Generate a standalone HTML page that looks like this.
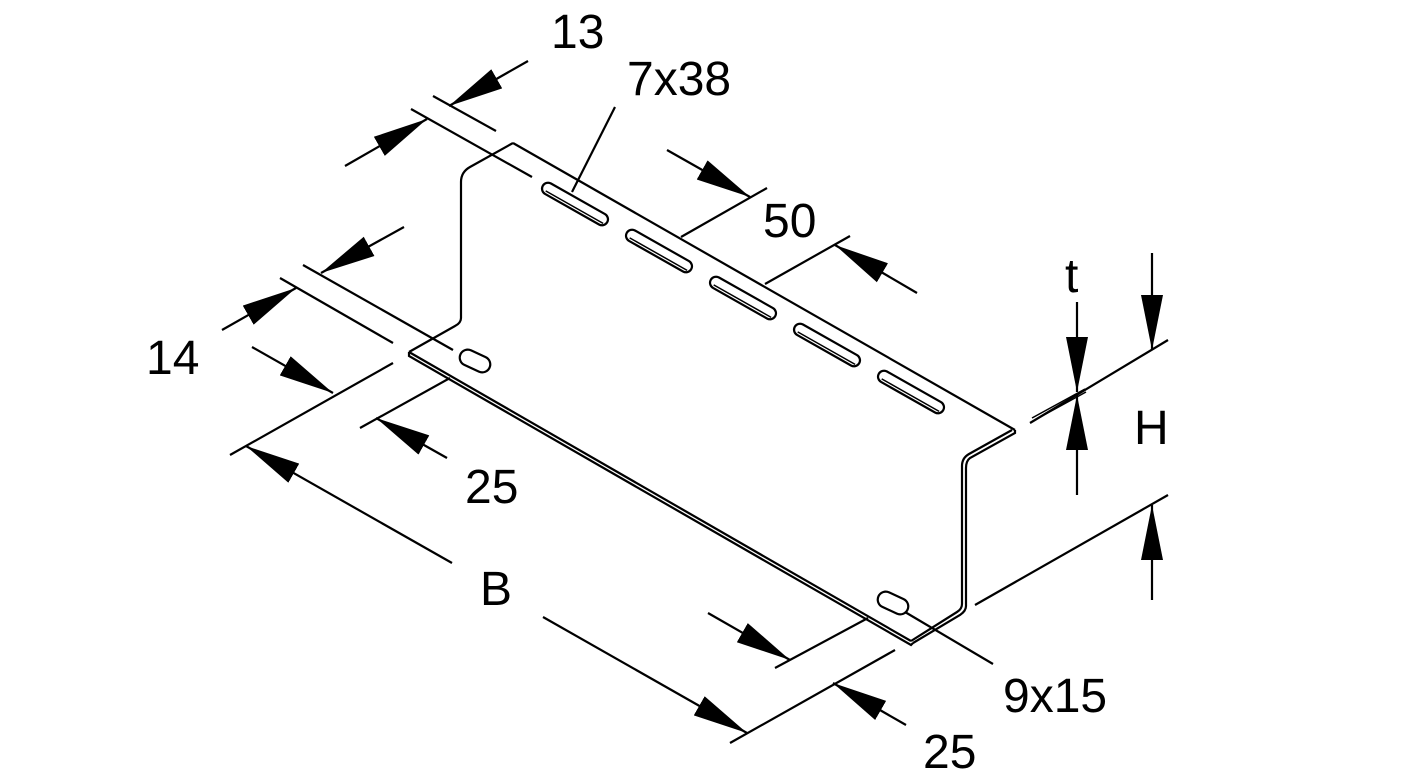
<!DOCTYPE html>
<html><head><meta charset="utf-8"><style>
html,body{margin:0;padding:0;background:#fff;}
svg{display:block;}
text{font-family:"Liberation Sans",Arial,sans-serif;font-size:48px;fill:#000;}
</style></head><body>
<svg width="1417" height="780" viewBox="0 0 1417 780" xmlns="http://www.w3.org/2000/svg">
<defs>
<marker id="a" markerUnits="userSpaceOnUse" markerWidth="60" markerHeight="24" refX="55" refY="11" orient="auto" viewBox="0 0 60 22">
<path d="M0,0 L55,11 L0,22 z" fill="#000"/>
</marker>
</defs>
<g stroke="#000" stroke-width="2.2" fill="none" stroke-linecap="butt">
<path d="M513,143 L1015,430"/>
<path d="M513,143 L470,167 Q461,172 461,182 L461,318 Q461,323 455,326 L409,352"/>
<path d="M409,352 L911,641" />
<path d="M409,352 L409,356 L911,645 L913,643"/>
<path d="M1015,430 L1015,433 L970,458 Q966,461 966,468 L966,606 Q966,611 960,615 L913,643"/>
<path d="M1012,430 L969,454 Q962,458 962,466 L962,604 Q962,609 957,612 L911,641"/>
<g transform="translate(575,204) rotate(29.5)"><rect x="-37" y="-6" width="74" height="12" rx="6"/><line x1="-32" y1="3" x2="34" y2="3" stroke-width="1.5"/></g>
<g transform="translate(659,251) rotate(29.5)"><rect x="-37" y="-6" width="74" height="12" rx="6"/><line x1="-32" y1="3" x2="34" y2="3" stroke-width="1.5"/></g>
<g transform="translate(743,298) rotate(29.5)"><rect x="-37" y="-6" width="74" height="12" rx="6"/><line x1="-32" y1="3" x2="34" y2="3" stroke-width="1.5"/></g>
<g transform="translate(827,345) rotate(29.5)"><rect x="-37" y="-6" width="74" height="12" rx="6"/><line x1="-32" y1="3" x2="34" y2="3" stroke-width="1.5"/></g>
<g transform="translate(911,392) rotate(29.5)"><rect x="-37" y="-6" width="74" height="12" rx="6"/><line x1="-32" y1="3" x2="34" y2="3" stroke-width="1.5"/></g>
<g transform="translate(475,361) rotate(25)"><rect x="-16" y="-8" width="32" height="16" rx="8"/></g>
<g transform="translate(893,603) rotate(25)"><rect x="-16" y="-8" width="32" height="16" rx="8"/></g>
<line x1="433" y1="96" x2="496" y2="131"/>
<line x1="411" y1="109" x2="532" y2="177"/>
<line x1="303" y1="265" x2="453" y2="350"/>
<line x1="280" y1="278" x2="393" y2="343"/>
<line x1="230" y1="455" x2="393" y2="363"/>
<line x1="360" y1="428" x2="450" y2="378"/>
<line x1="681" y1="237" x2="767" y2="188"/>
<line x1="765" y1="284" x2="850" y2="236"/>
<line x1="775" y1="668" x2="868" y2="618"/>
<line x1="730" y1="743" x2="895" y2="650"/>
<line x1="1030" y1="423" x2="1168" y2="340"/>
<path d="M1032,418 L1085,389 M1033,421 L1086,392" stroke-width="1.5"/>
<line x1="975" y1="605" x2="1168" y2="495"/>
<line x1="572" y1="192" x2="615" y2="107"/>
<line x1="905" y1="612" x2="993" y2="664"/>
<g marker-end="url(#a)">
<line x1="528" y1="61" x2="449" y2="106"/>
<line x1="345" y1="166" x2="427" y2="119"/>
<line x1="404" y1="227" x2="321" y2="273"/>
<line x1="222" y1="330" x2="296" y2="288"/>
<line x1="252" y1="347" x2="333" y2="393"/>
<line x1="447" y1="458" x2="376" y2="418"/>
<line x1="452" y1="563" x2="246" y2="446"/>
<line x1="543" y1="617" x2="747" y2="733"/>
<line x1="667" y1="150" x2="750" y2="197"/>
<line x1="917" y1="293" x2="835" y2="245"/>
<line x1="708" y1="613" x2="790" y2="660"/>
<line x1="906" y1="725" x2="833" y2="683"/>
<line x1="1077" y1="302" x2="1077" y2="392"/>
<line x1="1077" y1="495" x2="1077" y2="395"/>
<line x1="1152" y1="253" x2="1152" y2="350"/>
<line x1="1152" y1="600" x2="1152" y2="505"/>
</g>
</g>
<text x="551" y="48">13</text>
<text x="627" y="95">7x38</text>
<text x="763" y="237">50</text>
<text x="146" y="374">14</text>
<text x="465" y="503">25</text>
<text x="480" y="605">B</text>
<text x="1003" y="712">9x15</text>
<text x="923" y="768">25</text>
<text x="1065" y="292">t</text>
<text x="1134" y="444">H</text>
</svg>
</body></html>
